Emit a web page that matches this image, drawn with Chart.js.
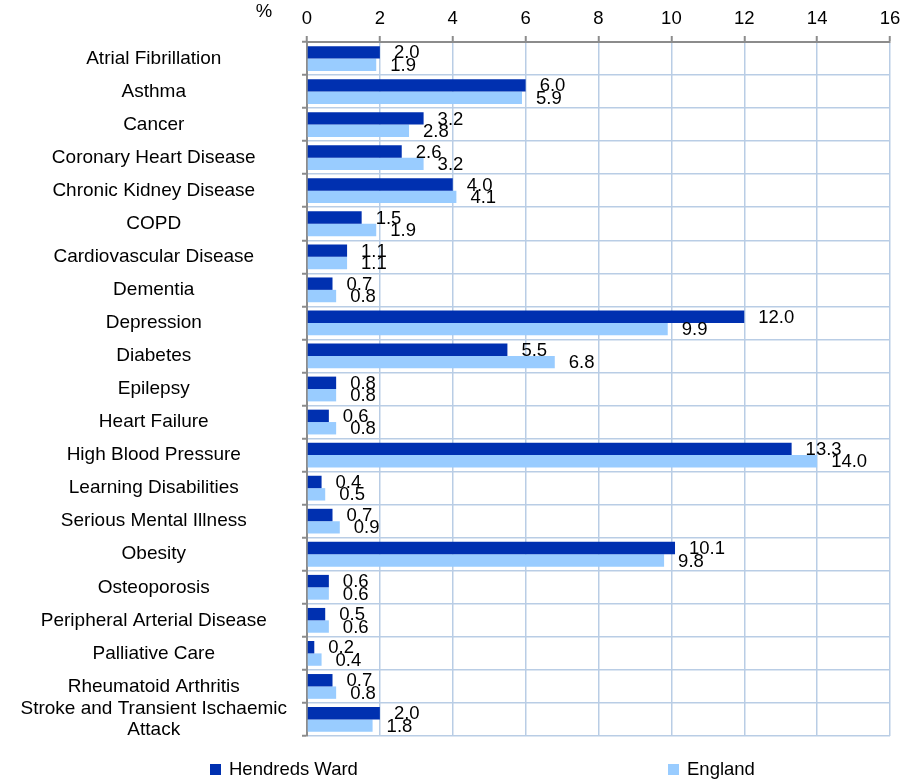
<!DOCTYPE html>
<html>
<head>
<meta charset="utf-8">
<script src="https://cdn.jsdelivr.net/npm/chart.js@4/dist/chart.umd.min.js"></script>
<style>
  html, body { margin: 0; padding: 0; background: #ffffff; }
  #wrap { position: relative; width: 917px; height: 780px; }
</style>
</head>
<body>
<div id="wrap"><canvas id="c" width="917" height="780"></canvas></div>
<script>
const categories = [
  "Atrial Fibrillation", "Asthma", "Cancer", "Coronary Heart Disease",
  "Chronic Kidney Disease", "COPD", "Cardiovascular Disease", "Dementia",
  "Depression", "Diabetes", "Epilepsy", "Heart Failure", "High Blood Pressure",
  "Learning Disabilities", "Serious Mental Illness", "Obesity", "Osteoporosis",
  "Peripheral Arterial Disease", "Palliative Care", "Rheumatoid Arthritis",
  ["Stroke and Transient Ischaemic", "Attack"]
];
const hendredsWard = [2.0, 6.0, 3.2, 2.6, 4.0, 1.5, 1.1, 0.7, 12.0, 5.5, 0.8, 0.6, 13.3, 0.4, 0.7, 10.1, 0.6, 0.5, 0.2, 0.7, 2.0];
const england      = [1.9, 5.9, 2.8, 3.2, 4.1, 1.9, 1.1, 0.8, 9.9, 6.8, 0.8, 0.8, 14.0, 0.5, 0.9, 9.8, 0.6, 0.6, 0.4, 0.8, 1.8];
const seriesNames = ["Hendreds Ward", "England"];
const xTicks = [0, 2, 4, 6, 8, 10, 12, 14, 16];
const unitLabel = "%";

const FONT = "'Liberation Sans', Arial, sans-serif";
const DARK = "#0030B0";
const LIGHT = "#99CCFF";
const GRID = "#B9CDE5";
const AXIS = "#8C8C8C";

const valueLabels = {
  id: 'valueLabels',
  afterDatasetsDraw(chart) {
    const ctx = chart.ctx;
    ctx.save();
    ctx.font = "18.5px " + FONT;
    ctx.fillStyle = "#000";
    ctx.textAlign = "left";
    ctx.textBaseline = "middle";
    chart.data.datasets.forEach((ds, di) => {
      const meta = chart.getDatasetMeta(di);
      meta.data.forEach((bar, i) => {
        ctx.fillText(ds.data[i].toFixed(1), bar.x + 14, bar.y + 1);
      });
    });
    ctx.restore();
  }
};

const extras = {
  id: 'extras',
  afterDraw(chart) {
    const ctx = chart.ctx;
    const area = chart.chartArea;
    ctx.save();
    ctx.font = "18.5px " + FONT;
    ctx.fillStyle = "#000";
    ctx.textBaseline = "middle";
    ctx.textAlign = "center";
    ctx.fillText(unitLabel, area.left - 43, 12);
    // legend
    const legendX = [210, 668];
    const ly = 769;
    chart.data.datasets.forEach((ds, i) => {
      ctx.fillStyle = ds.backgroundColor;
      ctx.fillRect(legendX[i], ly - 5, 11, 11);
      ctx.fillStyle = "#000";
      ctx.textAlign = "left";
      ctx.fillText(ds.label, legendX[i] + 19, ly + 1);
    });
    ctx.restore();
  }
};

new Chart(document.getElementById('c'), {
  type: 'bar',
  data: {
    labels: categories,
    datasets: [
      { label: seriesNames[0], data: hendredsWard, backgroundColor: DARK, categoryPercentage: 0.75, barPercentage: 1.0 },
      { label: seriesNames[1], data: england, backgroundColor: LIGHT, categoryPercentage: 0.75, barPercentage: 1.0 }
    ]
  },
  options: {
    indexAxis: 'y',
    responsive: false,
    animation: false,
    layout: { padding: { left: 0, right: 27, top: 0, bottom: 44 } },
    plugins: {
      legend: { display: false },
      tooltip: { enabled: false }
    },
    scales: {
      x: {
        position: 'top',
        min: 0, max: 16,
        afterBuildTicks(scale) { scale.ticks = xTicks.map(v => ({ value: v })); },
        afterFit(scale) { scale.height = 42; },
        ticks: { color: '#000', font: { family: FONT, size: 18.5 }, padding: 6 },
        grid: { color: GRID, lineWidth: 1.5, tickColor: AXIS, tickLength: 6, tickWidth: 2 },
        border: { color: AXIS, width: 2 }
      },
      y: {
        afterFit(scale) { scale.width = 307; },
        ticks: { color: '#000', font: { family: FONT, size: 19, lineHeight: 1.08 }, crossAlign: 'center', padding: 15, autoSkip: false },
        grid: { color: GRID, lineWidth: 1.5, tickColor: AXIS, tickLength: 5, tickWidth: 2, offset: true },
        border: { color: AXIS, width: 2 }
      }
    }
  },
  plugins: [valueLabels, extras]
});
</script>
</body>
</html>
